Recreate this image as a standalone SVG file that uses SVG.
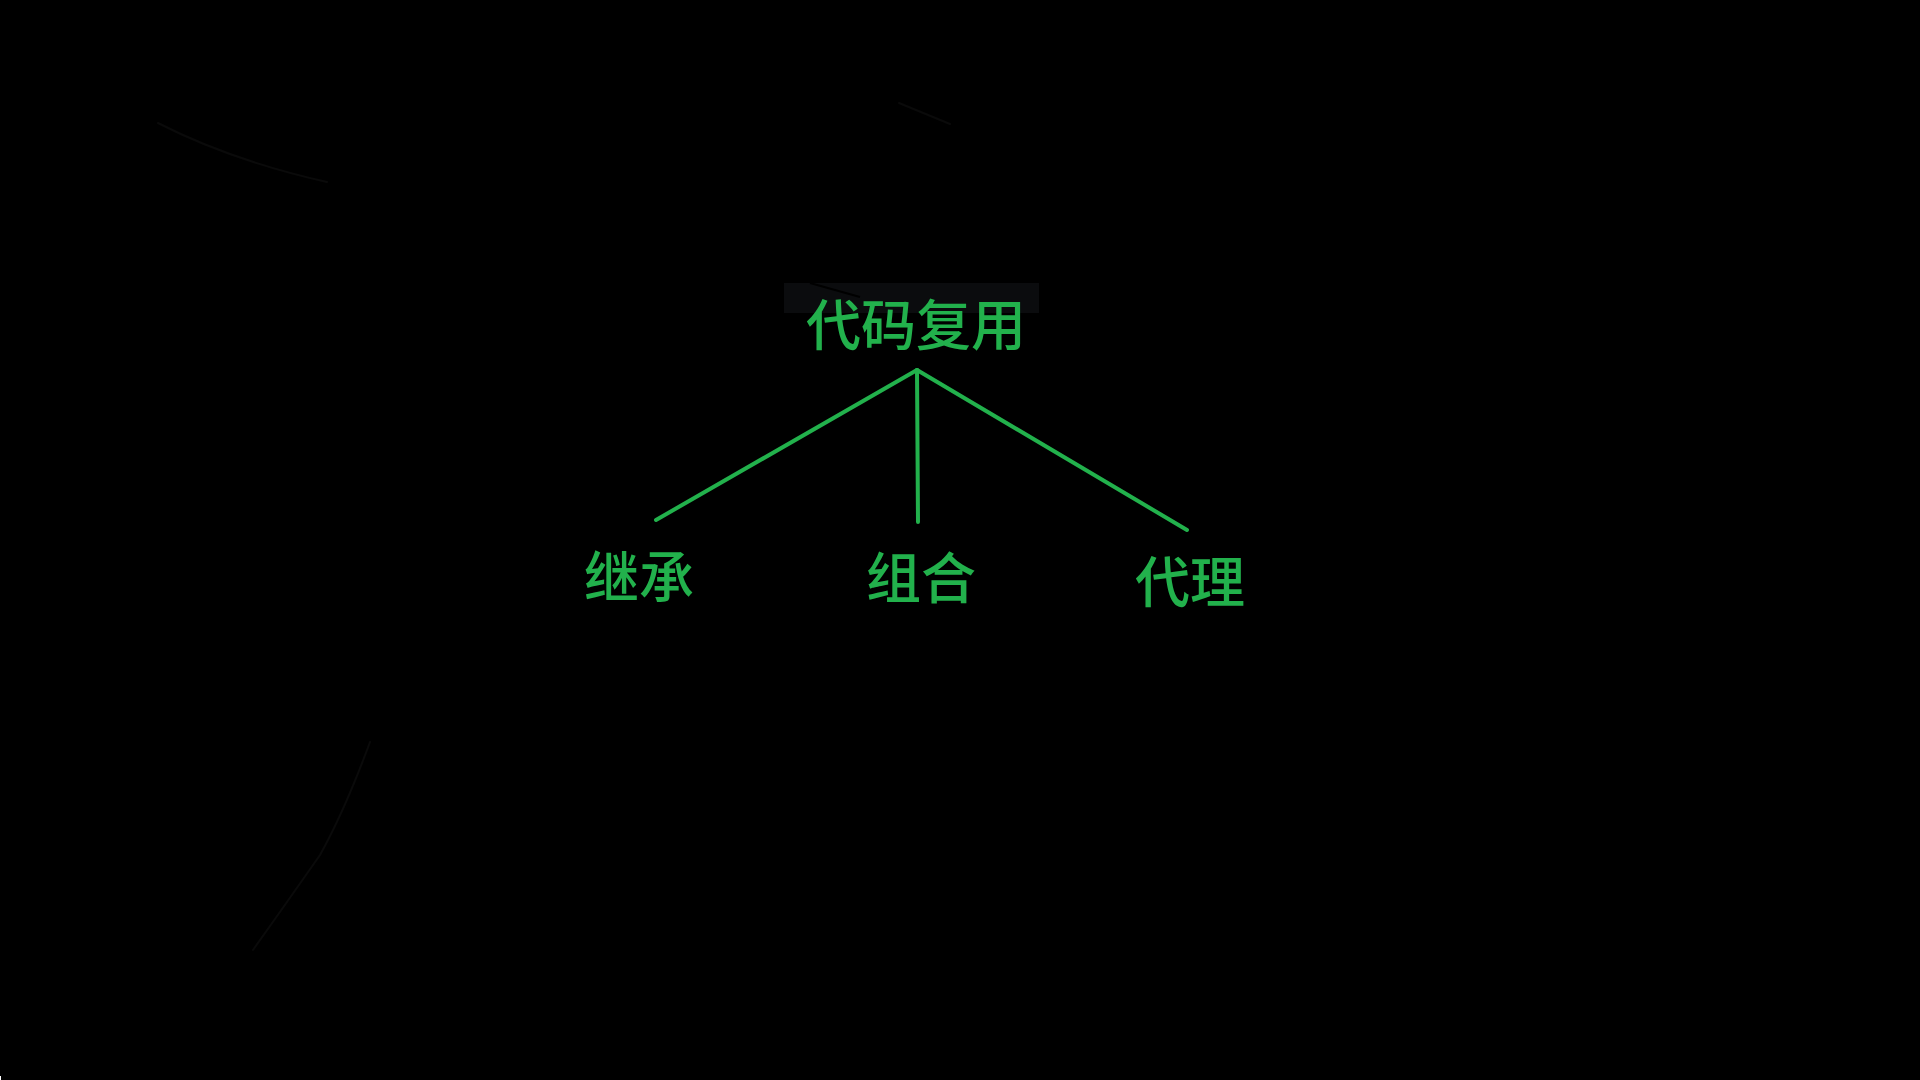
<svg xmlns="http://www.w3.org/2000/svg" width="1920" height="1080" viewBox="0 0 1920 1080">
  <style>
    .lbl { font-family: "Noto Sans CJK SC", "Noto Sans", sans-serif; font-size: 55px; font-weight: 500; fill: #22b14c; text-anchor: middle; }
    .conn { stroke: #22b14c; stroke-width: 4; stroke-linecap: round; fill: none; }
    .faint { stroke: #0a0a0a; stroke-width: 2; fill: none; stroke-linecap: round; }
  </style>
  <rect width="1920" height="1080" fill="#000"/>
  <g id="background-traces">
    <path class="faint" d="M158 123 Q 230 160 327 182"/>
    <path class="faint" d="M899 103 L950 124"/>
    <path class="faint" d="M370 742 Q 345 810 320 855 Q 285 905 253 950"/>
    <rect x="0" y="1076" width="1" height="4" fill="#ffffff"/>
  </g>
  <g id="node-root">
    <rect x="784" y="283" width="255" height="30" fill="#0b0c0e"/>
    <path d="M810 283 L860 297" stroke="#000" stroke-width="2" fill="none"/>
    <text class="lbl" x="916" y="345">代码复用</text>
  </g>
  <g id="connectors">
    <line class="conn" x1="917" y1="370" x2="656" y2="520"/>
    <line class="conn" x1="917" y1="370" x2="918" y2="522"/>
    <line class="conn" x1="917" y1="370" x2="1187" y2="530"/>
  </g>
  <g id="node-inherit">
    <text class="lbl" x="639" y="597">继承</text>
  </g>
  <g id="node-compose">
    <text class="lbl" x="921" y="598">组合</text>
  </g>
  <g id="node-proxy">
    <text class="lbl" x="1190" y="602">代理</text>
  </g>
</svg>
